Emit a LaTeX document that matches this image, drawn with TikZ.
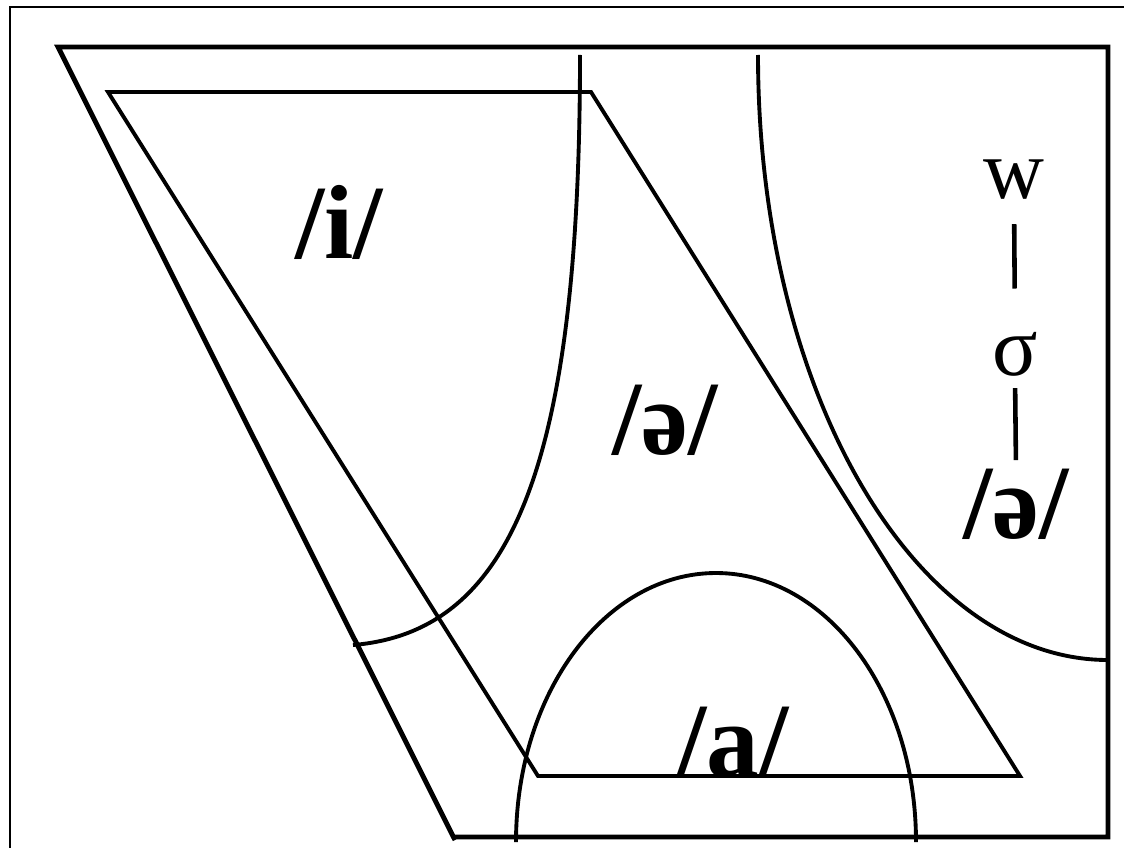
\documentclass[tikz,border=0pt]{standalone}
\usepackage{fontspec}
\setmainfont{Liberation Serif}

\begin{document}
\begin{tikzpicture}[
  x=0.02cm,y=-0.02cm,
  frame/.style={line width=0.8pt},
  outer/.style={line width=2.8pt,line join=miter},
  inner/.style={line width=2.2pt,line join=miter},
  bound/.style={line width=2.2pt},
  vowel/.style={inner sep=0pt,anchor=base,font=\fontsize{60}{72}\selectfont\bfseries},
  tier/.style={inner sep=0pt,anchor=base,font=\fontsize{48}{58}\selectfont},
  link/.style={line width=2.6pt}
]
\useasboundingbox (0,0) rectangle (1124,848);
\draw[frame] (1124,7) -- (10,7) -- (10,848);

% the two trapezoids
\draw[outer] (455,840) -- (58,47) -- (1108,47) -- (1108,837) -- (455,837);
\draw[inner] (108,92) -- (591,92) -- (1020,776) -- (538,776) -- cycle;

% region boundaries
\draw[bound] (580,55) .. controls (580,470) and (510,632) .. (353,645);
\draw[bound] (758,55) .. controls (758,392) and (915,660) .. (1108,660);
\draw[bound] (516,842) .. controls (516,692) and (606,573) .. (716,573)
             .. controls (826,573) and (916,692) .. (916,842);

% vowels
\node[vowel] (i) at (339,258) {/i/};
\node[vowel] (schwa) at (665,454) {/ə/};
\node[vowel] (a) at (733,776) {/a/};

% prosodic tiers
\node[tier] (w) at (1014,198) {w};
\node[tier] (sig) at (1015,375) {σ};
\node[vowel] (schwaR) at (1016,538) {/ə/};
\draw[link,shorten <=0.5cm,shorten >=0.86cm] (w.south) -- (sig.north);
\draw[link,shorten <=0.24cm,shorten >=0.16cm] (sig.south) -- (schwaR.north);
\end{tikzpicture}
\end{document}
